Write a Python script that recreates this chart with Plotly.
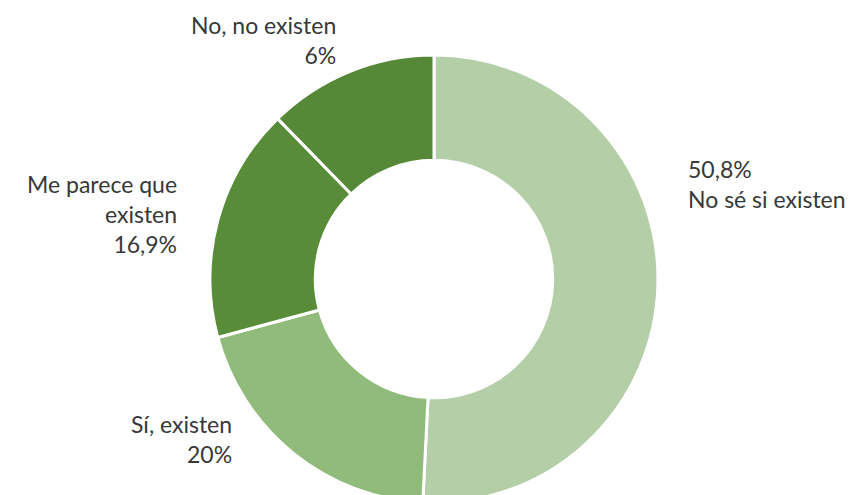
import plotly.graph_objects as go

# Data
categories = ["No sé si existen", "Sí, existen", "Me parece que existen", "No, no existen"]
values = [50.8, 20.0, 16.9, 12.3]           # slice sizes as drawn
value_labels = ["50,8%", "20%", "16,9%", "6%"]  # labels as printed in the chart
colors = ["#B4CFA8", "#91BB7B", "#588C39", "#558837"]

# Layout helpers (page body has an 8px margin, so screen px = figure px + 8)
W, H = 856, 495
OFF = 8
label_text = [
    f"{value_labels[0]}<br>No sé si existen",
    f"Sí, existen<br>{value_labels[1]}",
    f"Me parece que<br>existen<br>{value_labels[2]}",
    f"No, no existen<br>{value_labels[3]}",
]
label_pos = [(686, 184, "left"), (234, 439, "right"), (179, 214, "right"), (338, 40, "right")]

cx, cy, r = 434 - OFF, 279 - OFF, 224

fig = go.Figure(go.Pie(
    labels=categories,
    values=values,
    hole=0.53,
    sort=False,
    direction="clockwise",
    rotation=0,
    marker=dict(colors=colors, line=dict(color="white", width=3)),
    textinfo="none",
    hoverinfo="label+percent",
    domain=dict(x=[(cx - r) / W, (cx + r) / W],
                y=[max(0.0, 1 - (cy + r) / H), 1 - (cy - r) / H]),
    showlegend=False,
))

for txt, (px, py, side) in zip(label_text, label_pos):
    fig.add_annotation(
        x=(px - OFF) / W, y=1 - (py - OFF) / H, xref="paper", yref="paper",
        text=txt, showarrow=False,
        xanchor=side, yanchor="middle", align=side,
        font=dict(family="Lato, Carlito, sans-serif", size=23, color="#383838"),
    )

fig.update_layout(
    width=W, height=H,
    margin=dict(l=0, r=0, t=0, b=0),
    paper_bgcolor="white",
    plot_bgcolor="white",
)

fig.write_html("out.html")
